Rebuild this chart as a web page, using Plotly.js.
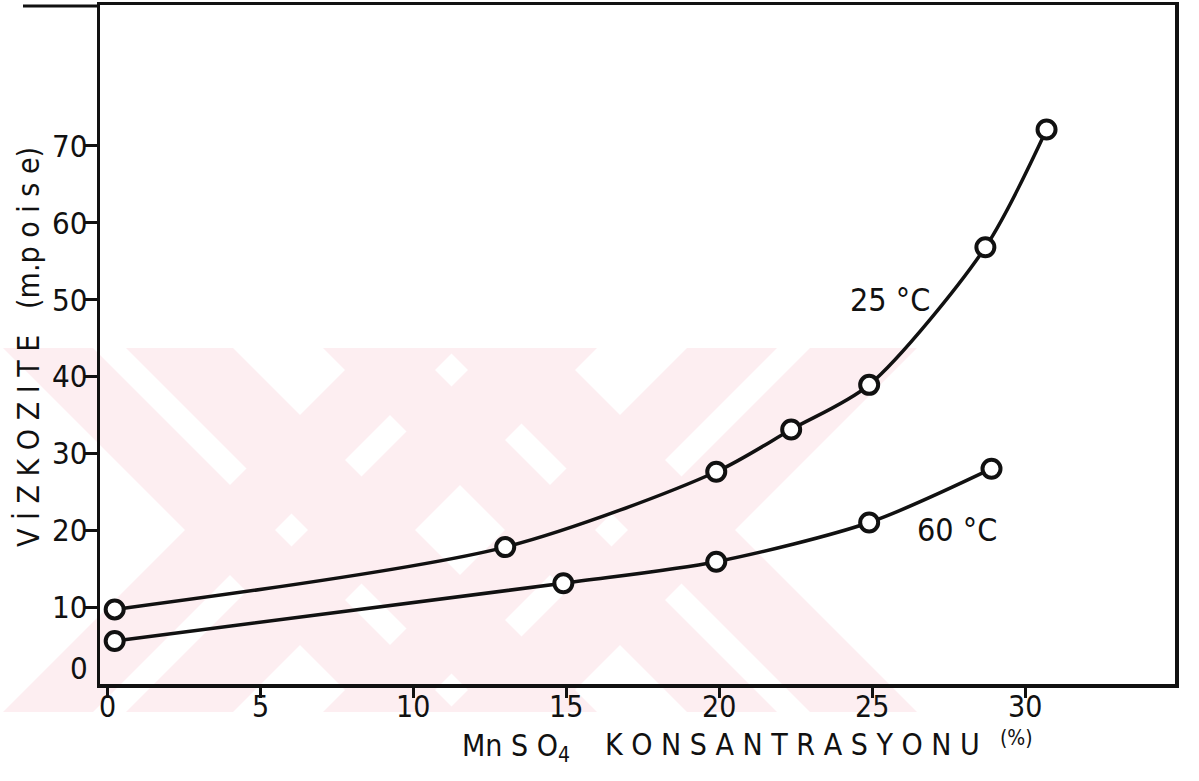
<!DOCTYPE html>
<html>
<head>
<meta charset="utf-8">
<script src="https://cdn.plot.ly/plotly-3.0.1.min.js"></script>
<style>html,body{margin:0;padding:0;background:#fff;}#chart{width:1199px;height:781px;}</style>
</head>
<body>
<div id="chart"></div>
<script>
// Data
var conc25 = [0.23, 13.0, 19.9, 22.35, 24.9, 28.7, 30.7];
var visc25 = [9.7, 17.8, 27.6, 33.1, 38.9, 56.8, 72.1];
var conc60 = [0.23, 14.9, 19.9, 24.9, 28.9];
var visc60 = [5.6, 13.1, 15.9, 21.0, 28.0];
var xTickVals = [0, 5, 10, 15, 20, 25, 30];
var xTickText = ['0', '5', '10', '15', '20', '25', '30'];
var yTickVals = [10, 20, 30, 40, 50, 60, 70];
var yTickText = ['10', '20', '30', '40', '50', '60', '70'];

var W = 1199, H = 781;
var M = {l: 100, r: 24, t: 5, b: 97};
var PW = W - M.l - M.r, PH = H - M.t - M.b;
function px(x) { return (x - M.l) / PW; }
function py(y) { return (H - M.b - y) / PH; }

var FONT = 'DejaVu Sans Condensed, DejaVu Sans, sans-serif';
var INK = '#111';

function series(xs, ys) {
  return {
    x: xs, y: ys, type: 'scatter', mode: 'lines+markers',
    line: {color: INK, width: 3.5, shape: 'spline', smoothing: 0.8},
    marker: {symbol: 'circle', size: 18, color: '#fff', line: {color: INK, width: 4}},
    hoverinfo: 'skip', showlegend: false, cliponaxis: false
  };
}

var data = [series(conc25, visc25), series(conc60, visc60)];

function ann(text, x, y, size, extra) {
  var a = {
    text: text, xref: 'paper', yref: 'paper', x: px(x), y: py(y),
    showarrow: false, xanchor: 'center', yanchor: 'middle',
    font: {family: FONT, size: size, color: INK}
  };
  for (var k in extra) a[k] = extra[k];
  return a;
}

var annotations = [
  ann('25 °C', 890, 300, 32),
  ann('60 °C', 957, 530, 32),
  ann('0', 79, 668, 31),
  ann('Mn S O<sub>4</sub>', 516, 747, 30),
  ann('K O N S A N T R A S Y O N U', 792, 745, 30),
  ann('(%)', 1016, 738, 21),
  ann('V İ Z K O Z I T E   (m.p o i s e)', 28, 347, 30, {textangle: -90})
];
// x tick labels
xTickVals.forEach(function (v, i) {
  annotations.push({
    text: xTickText[i], xref: 'x', yref: 'paper', x: v, y: py(706),
    showarrow: false, xanchor: 'center', yanchor: 'middle',
    font: {family: FONT, size: 30, color: INK}
  });
});
// y tick labels
yTickVals.forEach(function (v, i) {
  annotations.push({
    text: yTickText[i], xref: 'paper', yref: 'y', x: px(89), y: v,
    showarrow: false, xanchor: 'right', yanchor: 'middle',
    font: {family: FONT, size: 31, color: INK}
  });
});

var PINK = '#fdeef1';
function band(cx, cy, dir, a, b) {
  // 45-degree band in pixel space between y=348 and y=712
  var yt = 348, yb = 712;
  var xt = cx + dir * (yt - cy), xb = cx + dir * (yb - cy);
  var pts = [[xt + a, yt], [xt + b, yt], [xb + b, yb], [xb + a, yb]];
  var d = pts.map(function (p, i) {
    return (i ? 'L' : 'M') + px(p[0]).toFixed(5) + ',' + py(p[1]).toFixed(5);
  }).join(' ') + ' Z';
  return {type: 'path', xref: 'paper', yref: 'paper', path: d,
          fillcolor: PINK, line: {width: 0}, layer: 'below'};
}

var shapes = [];
[[300, 530], [620, 530]].forEach(function (c) {
  [-1, 1].forEach(function (dir) {
    shapes.push(band(c[0], c[1], dir, -115, -25));
    shapes.push(band(c[0], c[1], dir, 8, 115));
  });
});
shapes.push({type: 'line', xref: 'paper', yref: 'paper', x0: px(23), x1: px(100), y0: py(6), y1: py(6),
             line: {color: INK, width: 3}});

var layout = {
  width: W, height: H,
  margin: M,
  paper_bgcolor: '#fff', plot_bgcolor: 'rgba(0,0,0,0)',
  xaxis: {
    range: [-0.25, 34.9], showgrid: false, zeroline: false,
    showline: true, linecolor: INK, linewidth: 3.5, mirror: true,
    ticks: 'outside', ticklen: 10, tickwidth: 3, tickcolor: INK,
    tickvals: xTickVals, showticklabels: false
  },
  yaxis: {
    range: [0, 88.3], showgrid: false, zeroline: false,
    showline: true, linecolor: INK, linewidth: 3.5, mirror: true,
    ticks: 'outside', ticklen: 12, tickwidth: 3, tickcolor: INK,
    tickvals: yTickVals, showticklabels: false
  },
  annotations: annotations,
  shapes: shapes,
  showlegend: false
};

Plotly.newPlot('chart', data, layout, {staticPlot: true});
</script>
</body>
</html>
